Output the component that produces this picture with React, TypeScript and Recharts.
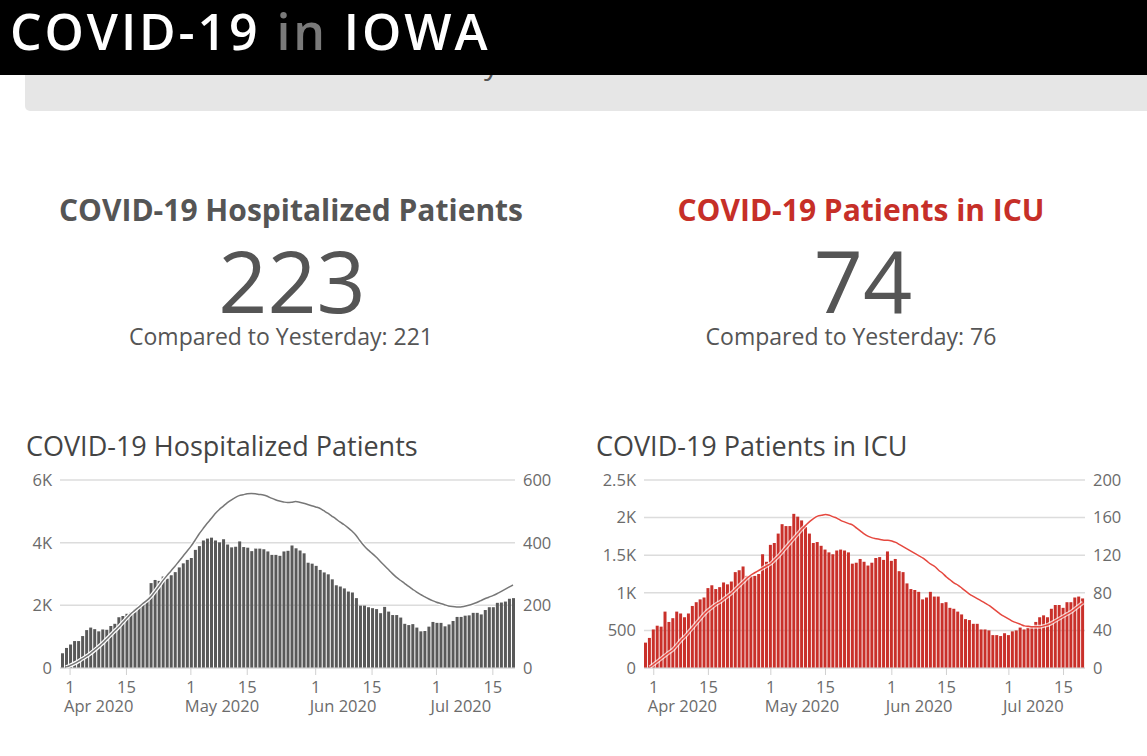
import { ComposedChart, CartesianGrid, XAxis, YAxis, Bar, Line } from 'recharts';

// daily values, Mar 30 .. Jul 20 2020
const hospBars = [
  47, 64, 75, 86, 86, 102, 121, 129, 124, 117, 123, 122, 134, 141, 162, 166, 173, 178, 188, 198,
  207, 215, 271, 281, 278, 292, 285, 296, 306, 321, 334, 345, 351, 377, 389, 407, 413, 416, 407, 401,
  411, 394, 385, 387, 404, 386, 384, 373, 381, 381, 379, 372, 361, 361, 358, 372, 374, 391, 382, 375,
  366, 336, 333, 326, 313, 305, 299, 283, 264, 260, 254, 244, 241, 223, 199, 199, 194, 191, 188, 175,
  195, 180, 169, 169, 161, 141, 137, 140, 129, 117, 118, 132, 147, 144, 144, 133, 139, 150, 163, 163,
  167, 168, 176, 176, 171, 185, 194, 194, 208, 209, 212, 221, 223,
];

const hospLine = [
  null, 30, 80, 140, 210, 290, 370, 460, 560, 670, 780, 910, 1040, 1170, 1300, 1440, 1580, 1720, 1830, 1940,
  2050, 2150, 2270, 2430, 2600, 2780, 2940, 3090, 3240, 3400, 3560, 3720, 3880, 4070, 4270, 4440, 4610, 4760, 4920, 5050,
  5160, 5270, 5360, 5440, 5500, 5530, 5560, 5570, 5560, 5540, 5520, 5480, 5420, 5370, 5330, 5300, 5280, 5290, 5310, 5290,
  5260, 5220, 5180, 5140, 5100, 5020, 4940, 4850, 4760, 4660, 4580, 4480, 4370, 4240, 4060, 3900, 3770, 3660, 3540, 3410,
  3280, 3150, 3020, 2900, 2800, 2710, 2610, 2520, 2430, 2350, 2280, 2210, 2150, 2100, 2060, 2020, 1980, 1960, 1950, 1950,
  1970, 2000, 2040, 2090, 2150, 2210, 2260, 2310, 2370, 2440, 2510, 2580, 2650,
];

const icuBars = [
  27, 32, 41, 45, 44, 60, 49, 53, 60, 58, 54, 58, 66, 70, 73, 75, 85, 88, 84, 86,
  91, 89, 92, 102, 104, 108, 98, 98, 98, 100, 121, 113, 131, 133, 143, 153, 151, 151, 164, 161,
  157, 150, 143, 133, 134, 130, 126, 123, 121, 125, 126, 125, 123, 111, 112, 116, 113, 109, 112, 117,
  118, 115, 124, 114, 116, 103, 102, 90, 84, 83, 81, 73, 75, 81, 76, 76, 69, 70, 64, 63,
  60, 57, 52, 51, 47, 47, 41, 41, 40, 35, 35, 34, 37, 35, 39, 40, 43, 41, 43, 44,
  49, 54, 56, 54, 63, 67, 67, 64, 70, 70, 75, 76, 74,
];

const icuLine = [
  null, 10, 50, 90, 130, 170, 210, 250, 310, 370, 420, 480, 540, 600, 660, 720, 770, 810, 850, 880,
  920, 960, 1000, 1050, 1100, 1150, 1200, 1240, 1270, 1300, 1330, 1360, 1390, 1440, 1490, 1550, 1610, 1670, 1730, 1790,
  1850, 1900, 1950, 1990, 2020, 2030, 2040, 2030, 2010, 1990, 1960, 1940, 1920, 1900, 1860, 1820, 1780, 1750, 1730, 1720,
  1710, 1700, 1700, 1690, 1670, 1640, 1610, 1580, 1550, 1520, 1490, 1460, 1420, 1380, 1350, 1300, 1260, 1210, 1170, 1130,
  1100, 1060, 1020, 980, 950, 920, 890, 860, 830, 790, 750, 710, 680, 650, 620, 600, 580, 560, 555, 550,
  550, 550, 560, 575, 600, 630, 660, 690, 720, 750, 790, 830, 870,
];

const tickDates = [
  '2020-04-01', '2020-04-15', '2020-05-01', '2020-05-15',
  '2020-06-01', '2020-06-15', '2020-07-01', '2020-07-15',
];
const monthLabels: Record<string, string> = { '04': 'Apr 2020', '05': 'May 2020', '06': 'Jun 2020', '07': 'Jul 2020' };

const hospLeftTicks = [0, 2000, 4000, 6000];
const hospRightTicks = [0, 200, 400, 600];
const icuLeftTicks = [0, 500, 1000, 1500, 2000, 2500];
const icuRightTicks = [0, 40, 80, 120, 160, 200];

const START = Date.UTC(2020, 2, 30);
const dates = hospBars.map((_, i) => new Date(START + i * 86400000).toISOString().slice(0, 10));

const rows = dates.map((date, i) => ({
  date,
  hosp: hospBars[i],
  hospAvg: hospLine[i],
  icu: icuBars[i],
  icuAvg: icuLine[i],
}));

const FONT = '"Open Sans", sans-serif';
const TICK = { fill: '#6b6b6b', fontSize: 16.5, fontFamily: FONT };

const kFormat = (v: number) => (v < 1000 ? String(v) : `${v / 1000}K`);

const DateTick = (props: any) => {
  const { x, y, payload } = props;
  const d: string = payload.value;
  const day = Number(d.slice(8));
  return (
    <g>
      <line x1={x} x2={x} y1={y} y2={y + 7} stroke='#d0d0d0' strokeWidth={1} />
      <text x={x} y={y + 25} textAnchor='middle' {...TICK}>
        {day}
      </text>
      {day === 1 && (
        <text x={x - 6} y={y + 44} textAnchor='start' {...TICK}>
          {monthLabels[d.slice(5, 7)]}
        </text>
      )}
    </g>
  );
};

type PanelProps = {
  left: number;
  width: number;
  barKey: string;
  lineKey: string;
  barColor: string;
  lineColor: string;
  haloOpacity: number;
  leftTicks: number[];
  rightTicks: number[];
};

const Panel = ({ left, width, barKey, lineKey, barColor, lineColor, haloOpacity, leftTicks, rightTicks }: PanelProps) => (
  <div style={{ position: 'absolute', left, top: 460 }}>
    <ComposedChart width={width} height={258} data={rows} margin={{ top: 20, right: 0, bottom: 0, left: 0 }} barCategoryGap={1}>
      <CartesianGrid vertical={false} stroke='#dcdcdc' strokeWidth={1.5} yAxisId='left' />
      <XAxis
        dataKey='date'
        ticks={tickDates}
        interval={0}
        tick={<DateTick />}
        tickLine={false}
        tickSize={0}
        tickMargin={0}
        axisLine={{ stroke: '#dcdcdc' }}
        height={50}
      />
      <YAxis
        yAxisId='left'
        orientation='left'
        width={50}
        domain={[0, leftTicks[leftTicks.length - 1]]}
        ticks={leftTicks}
        tickFormatter={kFormat}
        axisLine={false}
        tickLine={false}
        tick={TICK}
      />
      <YAxis
        yAxisId='right'
        orientation='right'
        width={50}
        domain={[0, rightTicks[rightTicks.length - 1]]}
        ticks={rightTicks}
        axisLine={false}
        tickLine={false}
        tick={{ ...TICK, textAnchor: 'start' }}
      />
      <Bar dataKey={barKey} yAxisId='right' fill={barColor} barSize={3} isAnimationActive={false} />
      <Line
        dataKey={lineKey}
        yAxisId='left'
        type='monotone'
        stroke='#ffffff'
        strokeOpacity={haloOpacity}
        strokeWidth={4}
        dot={false}
        activeDot={false}
        isAnimationActive={false}
      />
      <Line
        dataKey={lineKey}
        yAxisId='left'
        type='monotone'
        stroke={lineColor}
        strokeWidth={1.5}
        dot={false}
        activeDot={false}
        isAnimationActive={false}
      />
    </ComposedChart>
  </div>
);

const abs = (left: number, top: number, extra: React.CSSProperties): React.CSSProperties => ({
  position: 'absolute',
  left,
  top,
  lineHeight: 1,
  whiteSpace: 'nowrap',
  ...extra,
});

const Centered = ({ cx, top, size, color, weight = 400, text }: any) => (
  <div style={abs(cx - 300, top, { width: 600, textAlign: 'center', fontSize: size, color, fontWeight: weight })}>{text}</div>
);

const App = () => {
  return (
    <div
      style={{
        position: 'absolute',
        left: 0,
        top: 0,
        width: 1147,
        height: 756,
        overflow: 'hidden',
        background: '#fff',
        fontFamily: FONT,
      }}
    >
      <div style={{ position: 'absolute', left: 25, top: 60, width: 1130, height: 51, background: '#e6e6e6', borderRadius: '0 0 0 5px' }} />
      <div style={abs(484, 48, { fontSize: 30, color: '#555' })}>y</div>
      <div style={{ position: 'absolute', left: 0, top: 0, width: 1147, height: 75, background: '#000' }}>
        <div style={abs(10, 3, { fontSize: 50, fontWeight: 600, color: '#fff', letterSpacing: 2.9, lineHeight: '56px' })}>
          COVID-19 <span style={{ color: '#7a7a7a' }}>in</span> IOWA
        </div>
      </div>

      <Centered cx={291} top={195} size={30} color='#555' weight={700} text='COVID-19 Hospitalized Patients' />
      <Centered cx={292} top={237} size={86} color='#555' text='223' />
      <Centered cx={281} top={325} size={23} color='#555' text='Compared to Yesterday: 221' />

      <Centered cx={861} top={195} size={30} color='#c62f28' weight={700} text='COVID-19 Patients in ICU' />
      <Centered cx={863} top={237} size={86} color='#555' text='74' />
      <Centered cx={851} top={325} size={23} color='#555' text='Compared to Yesterday: 76' />

      <div style={abs(26, 432, { fontSize: 27, color: '#444' })}>COVID-19 Hospitalized Patients</div>
      <div style={abs(596, 432, { fontSize: 27, color: '#444' })}>COVID-19 Patients in ICU</div>

      <Panel
        left={10}
        width={555}
        barKey='hosp'
        lineKey='hospAvg'
        barColor='#595959'
        lineColor='#777777'
        haloOpacity={1}
        leftTicks={hospLeftTicks}
        rightTicks={hospRightTicks}
      />
      <Panel
        left={594}
        width={541}
        barKey='icu'
        lineKey='icuAvg'
        barColor='#c9302a'
        lineColor='#e5483f'
        haloOpacity={0.7}
        leftTicks={icuLeftTicks}
        rightTicks={icuRightTicks}
      />
    </div>
  );
};

export default App;
